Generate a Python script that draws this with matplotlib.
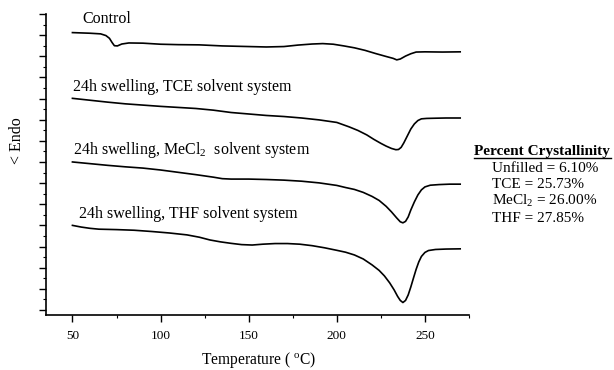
import matplotlib
matplotlib.use("Agg")
import matplotlib.pyplot as plt
from matplotlib.ticker import MultipleLocator, FixedLocator
from matplotlib.lines import Line2D

plt.rcParams['font.family'] = ['Liberation Serif', 'DejaVu Serif']
plt.rcParams['mathtext.fontset'] = 'custom'
plt.rcParams['mathtext.rm'] = 'Liberation Serif'
plt.rcParams['mathtext.it'] = 'Liberation Serif:italic'

# ---- data (temperature in degC, heat flow in arbitrary offset units) ----
control_T = [50, 60, 66, 69, 71, 72.5, 73.8, 75.5, 78, 82, 90, 100, 110, 122, 135, 150,
             160, 170, 178, 186, 192, 198, 204, 210, 216, 222, 228, 232, 234, 236, 239,
             242, 245, 250, 260, 270]
control_y = [13.12, 13.09, 13.06, 12.98, 12.85, 12.65, 12.50, 12.49, 12.58, 12.63, 12.62,
             12.57, 12.55, 12.54, 12.49, 12.46, 12.44, 12.46, 12.53, 12.58, 12.60, 12.57,
             12.49, 12.40, 12.28, 12.13, 11.99, 11.90, 11.83, 11.87, 12.01, 12.12, 12.20,
             12.21, 12.20, 12.21]

tce_T = [50, 60, 70, 80, 90, 100, 110, 120, 130, 140, 150, 160, 170, 180, 190, 200, 207,
         212, 217, 221, 225, 228, 231, 233.5, 235, 236.5, 238, 240, 242, 244, 246, 248,
         251, 256, 262, 270]
tce_y = [10.01, 9.92, 9.83, 9.75, 9.69, 9.63, 9.58, 9.53, 9.45, 9.34, 9.27, 9.20, 9.15,
         9.08, 8.99, 8.87, 8.66, 8.49, 8.28, 8.07, 7.88, 7.75, 7.64, 7.58, 7.59, 7.69,
         7.90, 8.23, 8.56, 8.80, 8.96, 9.04, 9.06, 9.07, 9.08, 9.08]

mecl2_T = [50, 60, 70, 80, 90, 100, 110, 120, 130, 135, 140, 150, 160, 170, 180, 190,
           200, 205, 210, 215, 220, 224, 228, 231, 234, 236, 237.5, 239, 240.5, 242, 244,
           246, 248, 250, 253, 258, 264, 270]
mecl2_y = [7.00, 6.92, 6.84, 6.77, 6.71, 6.62, 6.51, 6.40, 6.28, 6.21, 6.19, 6.19, 6.17,
           6.14, 6.09, 6.01, 5.89, 5.79, 5.70, 5.56, 5.37, 5.18, 4.90, 4.64, 4.35, 4.17,
           4.12, 4.19, 4.40, 4.73, 5.11, 5.44, 5.68, 5.82, 5.90, 5.93, 5.95, 5.95]

thf_T = [50, 55, 60, 65, 75, 85, 95, 105, 115, 122, 128, 134, 140, 146, 152, 158, 165,
         172, 179, 186, 193, 200, 205, 210, 215, 220, 224, 227, 230, 232.5, 234.5, 236,
         237.5, 239, 240.5, 242, 243.5, 245, 246.5, 248, 250, 252, 256, 262, 270]
thf_y = [4.00, 3.92, 3.86, 3.82, 3.80, 3.77, 3.71, 3.64, 3.55, 3.44, 3.31, 3.22, 3.15,
         3.09, 3.07, 3.11, 3.14, 3.14, 3.11, 3.04, 2.94, 2.82, 2.73, 2.60, 2.41, 2.13,
         1.87, 1.61, 1.28, 0.95, 0.64, 0.45, 0.35, 0.45, 0.71, 1.09, 1.51, 1.92, 2.27,
         2.53, 2.72, 2.81, 2.86, 2.88, 2.89]

x_ticks = [50, 100, 150, 200, 250]
x_tick_labels = ['50', '100', '150', '200', '250']

curve_labels = ['Control',
                '24h swelling, TCE solvent system',
                r'24h swelling, MeCl$_{\mathregular{2}}$  solvent system',
                '24h swelling, THF solvent system']

cryst_title = 'Percent Crystallinity'
cryst_lines = ['Unfilled = 6.10%',
               'TCE = 25.73%',
               r'MeCl$_{\mathregular{2}}$ = 26.00%',
               'THF = 27.85%']

# ---- figure ----
W, H = 614, 370
fig = plt.figure(figsize=(W / 100, H / 100), dpi=100)
ax = fig.add_axes([46 / W, 1 - 315 / H, (469 - 46) / W, (315 - 14) / H])

for T, y in [(control_T, control_y), (tce_T, tce_y), (mecl2_T, mecl2_y), (thf_T, thf_y)]:
    ax.plot(T, y, color='black', lw=1.2, solid_joinstyle='round')

ax.set_xlim(35, 275)
ax.set_ylim(-0.24, 14.0)

ax.xaxis.set_major_locator(FixedLocator(x_ticks))
ax.set_xticklabels(x_tick_labels, fontsize=9.5)
ax.xaxis.set_minor_locator(FixedLocator([75, 125, 175, 225, 275]))
ax.yaxis.set_major_locator(MultipleLocator(1))
ax.yaxis.set_minor_locator(MultipleLocator(0.5))
ax.set_yticklabels([])
ax.tick_params(axis='both', which='major', direction='out', length=5, width=1.0,
               color='black')
ax.tick_params(axis='both', which='minor', direction='out', length=2.5, width=0.8)
ax.tick_params(axis='x', pad=6)

for s in ['top', 'right']:
    ax.spines[s].set_visible(False)
for s in ['left', 'bottom']:
    ax.spines[s].set_linewidth(1.2)

# curve labels (positions in data coordinates)
label_pos = [(55.7, 13.59), (50.6, 10.36), (50.6, 7.37), (54.0, 4.37)]
label_sizes = [11.5, 11.5, 11.5, 11.5]
for (lx, ly), txt, fs in zip(label_pos, curve_labels, label_sizes):
    ax.text(lx, ly, txt, fontsize=fs, ha='left', va='baseline')

# axis labels
fig.text(17 / W, 1 - 141 / H, '< Endo', rotation=90, ha='center', va='center',
         fontsize=11.5)
fig.text(258 / W, 1 - 364 / H, r'Temperature ( $^{\mathregular{o}}$C)', ha='center',
         va='baseline', fontsize=11.2)

# crystallinity annotation
fig.text(474 / W, 1 - 155 / H, cryst_title, fontsize=11, fontweight='bold',
         ha='left', va='baseline')
fig.add_artist(Line2D([474 / W, 611 / W], [1 - 157.5 / H, 1 - 157.5 / H],
                      color='black', lw=1.0, transform=fig.transFigure))
for i, txt in enumerate(cryst_lines):
    fig.text(492 / W, 1 - (172 + 16.5 * i) / H, txt, fontsize=11, ha='left',
             va='baseline')

fig.savefig('out.png', dpi=100)
